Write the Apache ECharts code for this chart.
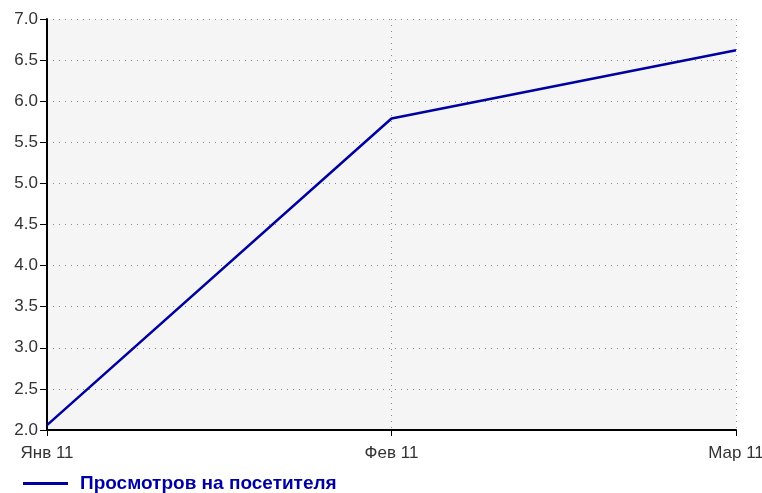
<!DOCTYPE html>
<html>
<head>
    <meta charset="utf-8" />
    <title></title>
    <style>
        html, body { margin: 0; padding: 0; background: #fff; }
        #chart { width: 762px; height: 493px; }
    </style>
</head>
<body>
    <div id="chart"></div>
    <script src="https://cdn.jsdelivr.net/npm/echarts@6/dist/echarts.min.js"></script>
    <script>
        var months = ['Янв 11', 'Фев 11', 'Мар 11'];
        var views = [2.06, 5.79, 6.62];
        var seriesName = 'Просмотров на посетителя';

        var chart = echarts.init(document.getElementById('chart'));
        var option = {
            animation: false,
            textStyle: { fontFamily: 'Liberation Sans, Arial, sans-serif' },
            grid: {
                left: 47, right: 26, top: 19, bottom: 63,
                outerBoundsMode: 'none', containLabel: false,
                backgroundColor: '#f5f5f5', show: true, borderWidth: 0
            },
            legend: {
                left: 18,
                top: 469,
                icon: 'rect',
                itemWidth: 45,
                itemHeight: 3,
                itemGap: 10,
                padding: 5,
                textStyle: { color: '#0000a0', fontWeight: 'bold', fontSize: 19, padding: [0, 0, 0, 7] },
                data: [seriesName]
            },
            xAxis: {
                type: 'category',
                boundaryGap: false,
                data: months,
                axisLine: { lineStyle: { color: '#000', width: 2 } },
                axisTick: { show: true, length: 6, lineStyle: { color: '#000', width: 1 } },
                axisLabel: { color: '#333', fontSize: 17, margin: 15 },
                splitLine: { show: true, lineStyle: { color: '#8a8a8a', type: [1, 5] } }
            },
            yAxis: {
                type: 'value',
                min: 2,
                max: 7,
                interval: 0.5,
                axisLine: { show: true, lineStyle: { color: '#000', width: 2 } },
                axisTick: { show: true, length: 7, lineStyle: { color: '#000', width: 1 } },
                axisLabel: {
                    color: '#333', fontSize: 17, margin: 9,
                    formatter: function (v) { return v.toFixed(1); }
                },
                splitLine: { show: true, lineStyle: { color: '#8a8a8a', type: [1, 5] } }
            },
            series: [{
                name: seriesName,
                type: 'line',
                data: views,
                symbol: 'none',
                lineStyle: { color: '#0000a0', width: 2.5 },
                itemStyle: { color: '#0000a0' }
            }]
        };
        chart.setOption(option);
    </script>
</body>
</html>
